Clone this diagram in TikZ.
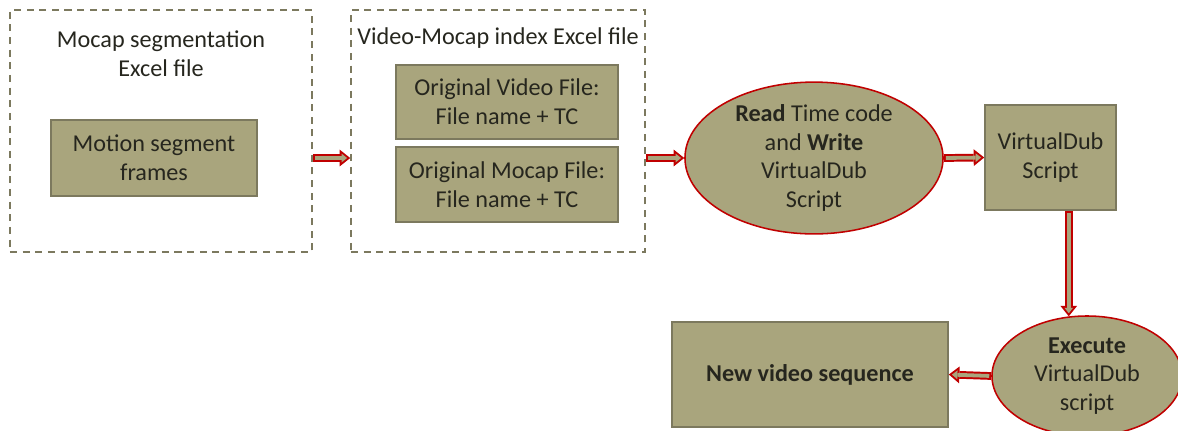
\documentclass[tikz,border=0pt]{standalone}
\usepackage{fontspec}
\setmainfont{Carlito}
\usetikzlibrary{arrows.meta, positioning, calc, shapes.geometric}
\definecolor{olivefill}{RGB}{169, 165, 125}
\definecolor{oliveline}{RGB}{124, 121, 94}
\definecolor{flowred}{RGB}{192, 0, 0}
\definecolor{inktext}{RGB}{38, 38, 30}

\tikzset{
  filebox/.style={draw=oliveline, dash pattern=on 5pt off 4pt, line width=1.1pt, inner sep=0pt},
  databox/.style={draw=oliveline, fill=olivefill, line width=1.1pt, align=center, inner sep=0pt},
  procnode/.style={ellipse, draw=flowred, fill=olivefill, line width=1.1pt, align=center, inner sep=0pt},
  fatarrow/.style={draw=flowred, line width=5.5pt, -{Triangle[length=7.5pt, width=12pt, line width=0pt]},
    postaction={draw=olivefill, line width=2.7pt, shorten >=2.2pt, shorten <=1.4pt,
      -{Triangle[length=3.9pt, width=6.2pt, line width=0pt]}}}
}

\begin{document}
\begin{tikzpicture}[x=0.025cm, y=-0.025cm, font=\fontsize{17.2}{20.5}\selectfont, text=inktext]
  \useasboundingbox (0,0) rectangle (1178,430);

  % Mocap segmentation file
  \node[filebox, minimum width=7.55cm, minimum height=6.05cm] (segfile) at (161,131) {};
  \node[align=center] (segtitle) at (161,54) {Mocap segmentation\\Excel file};
  \node[databox, minimum width=5.15cm, minimum height=1.9cm] (segframes) at (154,158) {Motion segment\\frames};

  % Video-Mocap index file
  \node[filebox, minimum width=7.35cm, minimum height=6.05cm] (idxfile) at (498,131) {};
  \node (idxtitle) at (498,38) {Video-Mocap index Excel file};
  \node[databox, minimum width=5.55cm, minimum height=1.85cm] (orgvideo) at (507,102) {Original Video File:\\File name + TC};
  \node[databox, minimum width=5.55cm, minimum height=1.875cm] (orgmocap) at (507,184.5) {Original Mocap File:\\File name + TC};

  % processing steps
  \node[procnode, minimum width=6.45cm, minimum height=3.55cm] (readtc) at (814,158)
    {\textbf{Read} Time code\\and \textbf{Write}\\VirtualDub\\Script};
  \node[databox, minimum width=3.275cm, minimum height=2.625cm] (vdscript) at (1050.5,157.5) {VirtualDub\\Script};
  \node[procnode, minimum width=4.75cm, minimum height=3cm] (execvd) at (1087,376)
    {\textbf{Execute}\\VirtualDub\\script};
  \node[databox, minimum width=6.9cm, minimum height=2.625cm] (newvid) at (810,374.5) {\textbf{New video sequence}};

  % connectors
  \draw[fatarrow] (segfile.east |- segframes.east) -- (idxfile.west |- segframes.east);
  \draw[fatarrow] (idxfile.east |- readtc.west) -- (readtc.west);
  \draw[fatarrow] (readtc.east) -- (vdscript.west);
  \draw[fatarrow] (vdscript.south -| execvd.107) -- (execvd.107);
  \draw[fatarrow] (execvd.west) -- (newvid.east);
\end{tikzpicture}
\end{document}
